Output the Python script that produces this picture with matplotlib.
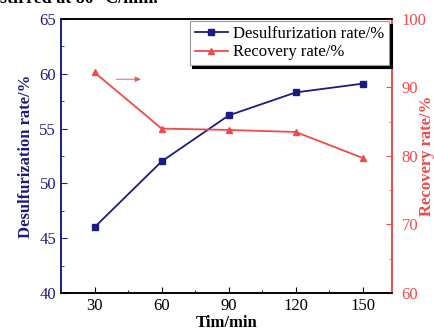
import matplotlib.pyplot as plt
from matplotlib.ticker import MultipleLocator

plt.rcParams['font.family'] = ['Liberation Serif', 'DejaVu Serif']

# datos
tiempo = [30, 60, 90, 120, 150]
desulfuracion = [46.0, 52.0, 56.2, 58.3, 59.1]
recuperacion = [92.2, 84.0, 83.8, 83.5, 79.7]

azul = '#1c1c80'
rojo = '#ef4b4b'

fig = plt.figure(figsize=(4.34, 3.31), dpi=100)
ax = fig.add_axes([0.1406, 0.115, 0.7624, 0.8276])
ax2 = ax.twinx()

l1, = ax.plot(tiempo, desulfuracion, color=azul, marker='s', markersize=4.5, lw=1.3,
              label='Desulfurization rate/%')
l2, = ax2.plot(tiempo, recuperacion, color=rojo, marker='^', markersize=5, lw=1.3,
               label='Recovery rate/%')

ax.set_xlim(15, 163)
ax.set_ylim(40, 65)
ax2.set_ylim(60, 100)

ax.set_xticks(tiempo)
ax.xaxis.set_minor_locator(MultipleLocator(15))
ax.yaxis.set_major_locator(MultipleLocator(5))
ax.yaxis.set_minor_locator(MultipleLocator(2.5))
ax2.yaxis.set_major_locator(MultipleLocator(10))
ax2.yaxis.set_minor_locator(MultipleLocator(5))

ax.tick_params(axis='x', which='both', direction='in', top=False, labelsize=12, colors='black')
ax.tick_params(axis='x', which='major', length=4)
ax.tick_params(axis='x', which='minor', length=2.5)
ax.tick_params(axis='y', which='both', direction='in', colors=azul, labelsize=12)
ax.tick_params(axis='y', which='major', length=4)
ax.tick_params(axis='y', which='minor', length=2.5)
ax2.tick_params(axis='y', which='both', direction='in', colors=rojo, labelsize=12, pad=7)
ax2.tick_params(axis='y', which='major', length=4)
ax2.tick_params(axis='y', which='minor', length=2.5)

ax.spines['left'].set_color(azul)
ax2.spines['left'].set_color(azul)
ax2.spines['right'].set_color(rojo)
ax.spines['right'].set_color(rojo)
for a in (ax, ax2):
    for s in a.spines.values():
        s.set_linewidth(1.2)

ax.set_xlabel('Tim/min', fontsize=12, fontweight='bold', labelpad=1)
ax.set_ylabel('Desulfurization rate/%', fontsize=12, fontweight='bold', color=azul, labelpad=4)
ax2.set_ylabel('Recovery rate/%', fontsize=12, fontweight='bold', color=rojo)
ax2.yaxis.set_label_coords(1.082, 0.5)

# flecha roja
ax2.annotate('', xy=(52, 91.2), xytext=(38.5, 91.2),
             arrowprops=dict(arrowstyle='-|>', color=rojo, lw=0.8, alpha=0.8,
                             mutation_scale=8))

leg = ax2.legend(handles=[l1, l2], loc='upper right', bbox_to_anchor=(0.897, 0.937),
                 bbox_transform=fig.transFigure, fontsize=12, frameon=True, fancybox=False,
                 edgecolor='#999999', shadow={'color': 'black', 'alpha': 1},
                 handlelength=2.0, borderpad=0.3, labelspacing=0.15, handletextpad=0.3,
                 borderaxespad=0)
leg.get_frame().set_linewidth(0.8)

# titulo cortado arriba
fig.text(0.0, 1.006, 'stirred at 80 \u00b0C/min.', fontsize=13, fontweight='bold', va='center')

fig.savefig('out.png', dpi=100)
